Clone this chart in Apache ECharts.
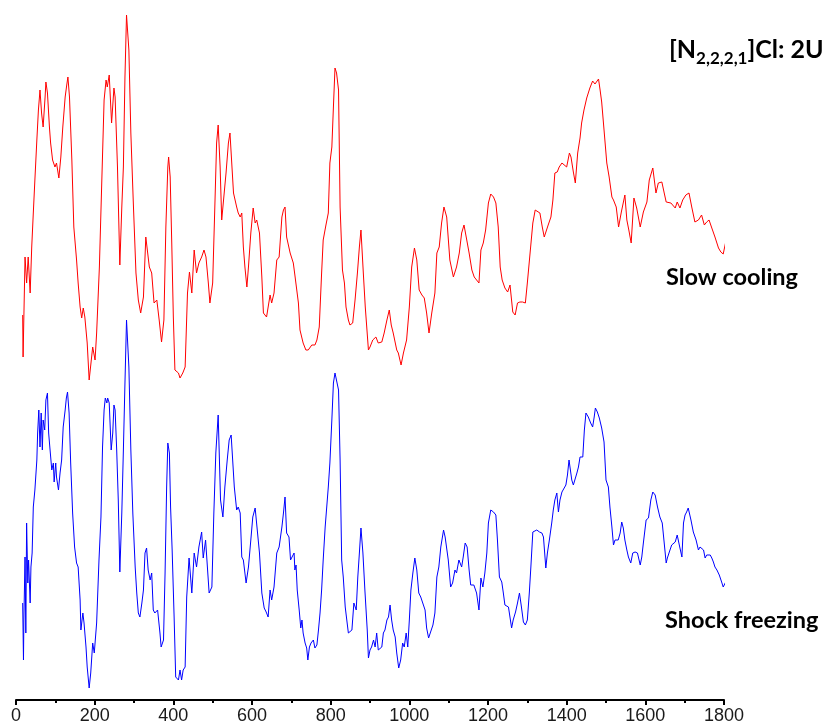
<!DOCTYPE html>
<html>
<head>
<meta charset="utf-8">
<script src="https://cdn.jsdelivr.net/npm/echarts@6/dist/echarts.min.js"></script>
<style>
  html, body { margin: 0; padding: 0; background: #ffffff; }
  #chart { width: 834px; height: 728px; }
</style>
</head>
<body>
<div id="chart"></div>
<script>
// Raman shift (cm-1) and offset intensity (a.u.) for the two spectra
const slowX = [17,18,23,27,31,36,40,44,48,53,57,59,61,65,69,74,76,80,85,88,93,99,103,109,114,119,125,129,132,136,142,147,154,158,163,167,171,175,181,186,195,201,205,212,218,224,229,232,237,243,249,252,258,264,269,273,277,281,287,292,298,305,311,317,324,330,332,339,345,351,358,364,370,376,381,386,388,392,396,400,404,413,417,424,430,436,441,447,453,459,465,472,478,483,489,493,500,506,510,514,519,523,527,534,540,544,548,553,561,565,570,574,578,582,587,591,597,603,608,612,619,625,629,637,641,646,650,656,663,669,676,680,684,688,697,705,709,714,718,722,726,730,737,743,752,760,765,771,777,781,788,794,798,803,807,811,815,820,824,830,835,839,845,849,856,862,868,873,877,883,888,896,900,907,915,921,926,930,936,943,949,954,959,968,972,979,985,993,1000,1006,1013,1019,1025,1032,1038,1044,1050,1057,1065,1070,1076,1082,1088,1095,1103,1112,1120,1127,1133,1139,1146,1152,1159,1165,1171,1177,1182,1188,1194,1201,1207,1214,1220,1226,1231,1236,1243,1250,1256,1263,1269,1275,1281,1288,1295,1300,1307,1314,1320,1325,1332,1338,1343,1348,1353,1360,1365,1370,1376,1381,1388,1393,1400,1407,1411,1417,1422,1428,1434,1438,1444,1451,1459,1466,1472,1481,1485,1489,1495,1502,1508,1515,1519,1526,1532,1539,1548,1553,1558,1564,1571,1578,1587,1595,1604,1610,1619,1627,1633,1642,1648,1653,1665,1670,1676,1681,1688,1695,1703,1711,1718,1726,1735,1743,1750,1756,1762,1769,1777,1786,1792,1798,1807];
const slowY = [385,343,443,417,443,407,453,487,520,560,590,600,610,587,573,603,618,607,573,557,540,533,537,522,543,573,603,615,623,603,540,473,440,417,393,382,392,383,357,320,353,340,367,433,517,600,620,613,625,577,612,603,533,435,493,533,623,685,650,567,500,427,400,387,403,463,465,433,427,397,400,380,358,380,473,533,543,523,457,383,330,327,322,327,333,407,428,407,450,427,437,443,450,443,417,397,417,500,557,575,533,480,480,527,557,567,568,507,493,487,483,487,453,433,413,433,467,492,477,480,467,423,387,383,382,405,397,407,440,443,483,490,493,463,447,437,425,423,397,370,372,357,350,350,355,355,360,373,427,460,475,487,537,553,593,632,627,610,493,430,417,393,380,375,377,400,427,453,470,427,393,350,353,360,363,357,358,358,367,380,390,375,367,350,347,335,347,360,393,433,452,440,410,405,402,387,367,387,407,447,453,477,493,483,440,423,433,447,467,475,460,447,430,423,420,417,450,457,470,497,506,503,497,473,433,420,412,408,415,388,385,397,398,398,397,417,447,477,490,492,487,473,463,462,475,483,500,527,528,533,537,535,533,547,543,528,517,547,562,577,590,602,612,619,616,621,610,598,570,537,523,503,500,493,473,488,505,480,470,457,502,492,473,488,498,520,532,507,517,518,507,498,497,498,492,498,492,500,505,507,493,478,480,485,475,478,480,472,463,452,448,446,463];

const shockX = [17,19,20,23,25,27,30,32,36,38,41,44,48,53,55,58,61,64,67,69,73,76,80,83,86,91,95,97,101,103,108,112,116,120,125,128,131,135,139,144,149,154,158,163,165,170,173,178,181,186,190,195,199,205,211,216,220,224,227,231,233,237,242,246,249,252,256,260,264,269,273,277,281,287,292,297,303,307,311,315,320,324,328,332,336,341,345,349,353,360,366,369,375,379,383,386,390,393,397,402,406,413,417,421,425,430,434,440,447,453,459,465,472,476,482,486,491,498,503,508,514,520,526,531,537,542,547,550,555,561,565,570,574,578,585,591,597,602,608,612,619,625,631,636,641,646,650,656,663,669,676,680,684,688,694,698,703,707,709,712,715,720,724,727,730,735,739,742,746,750,756,760,765,769,773,777,781,786,790,794,798,803,807,811,815,820,824,828,832,837,841,845,849,854,859,865,869,873,877,882,887,893,896,900,904,909,913,917,921,926,930,934,938,943,947,951,955,959,964,968,973,978,983,987,992,996,1000,1004,1009,1014,1019,1024,1029,1034,1040,1044,1049,1054,1060,1065,1070,1075,1080,1087,1091,1095,1099,1105,1110,1116,1120,1126,1129,1133,1137,1142,1147,1152,1156,1160,1164,1171,1177,1182,1187,1192,1197,1201,1207,1214,1220,1224,1229,1235,1239,1243,1248,1252,1256,1260,1264,1270,1275,1280,1285,1290,1295,1300,1305,1309,1314,1318,1324,1331,1337,1341,1347,1351,1356,1362,1366,1370,1375,1379,1383,1388,1393,1398,1402,1406,1409,1413,1417,1421,1426,1430,1434,1441,1445,1449,1455,1461,1466,1470,1473,1478,1483,1489,1495,1500,1506,1510,1515,1519,1523,1531,1536,1540,1544,1548,1553,1557,1563,1568,1574,1580,1587,1591,1595,1602,1608,1614,1619,1625,1631,1637,1643,1648,1653,1656,1661,1667,1671,1676,1681,1688,1693,1697,1701,1705,1709,1716,1722,1729,1735,1739,1743,1748,1752,1756,1760,1765,1769,1773,1777,1782,1788,1794,1798,1803,1807];
const shockY = [97,40,80,143,67,177,117,140,97,133,147,193,210,240,267,290,253,287,250,280,270,300,307,267,253,230,237,218,237,223,210,227,240,273,290,302,308,287,237,187,153,137,133,100,70,87,77,53,33,12,27,57,47,77,140,183,253,290,302,297,302,297,250,267,295,290,250,200,128,187,250,317,380,333,250,187,133,107,87,83,97,110,147,152,130,120,127,90,87,90,67,53,60,127,213,257,247,193,150,83,23,20,30,20,30,33,103,142,107,147,133,153,168,142,160,160,107,113,187,247,285,200,183,213,240,260,265,267,213,190,193,187,143,140,117,133,160,183,192,190,147,107,92,88,83,110,100,113,147,153,173,187,203,167,163,140,142,147,130,135,110,90,72,80,67,57,52,40,53,57,60,52,55,70,87,110,140,173,172,213,237,280,317,327,328,310,240,140,123,93,80,67,65,70,97,90,123,147,172,147,110,70,42,50,53,60,53,67,50,48,53,67,70,80,83,95,80,70,63,47,32,40,57,53,67,53,80,110,127,142,130,107,103,102,90,72,62,60,75,87,123,133,153,170,163,162,140,113,117,130,127,140,138,133,143,157,153,130,115,113,115,107,90,122,113,127,147,177,190,188,185,160,123,118,107,95,93,93,92,72,80,88,97,107,93,78,75,80,107,133,168,168,170,168,167,163,132,147,160,177,190,200,207,188,200,208,207,215,225,240,242,220,215,213,227,233,243,243,270,287,283,277,273,283,292,288,282,272,258,220,213,193,173,155,160,160,167,178,172,160,150,143,137,147,148,147,135,143,157,180,182,200,208,205,193,183,177,157,137,142,148,155,157,158,165,152,143,177,185,188,192,180,168,160,150,153,155,150,142,145,147,145,142,138,133,130,125,118,113,117,120];

const xTicks = [0, 1800, 200];          // axis min, max, major step
const yRange = [0, 700];                // vertical extent of the stacked plot (a.u.)

const pair = (xs, ys) => xs.map((x, i) => [x, ys[i]]);

const chart = echarts.init(document.getElementById('chart'), null, { renderer: 'canvas' });

chart.setOption({
  animation: false,
  backgroundColor: '#ffffff',
  grid: { left: 16, right: 110, top: 0, bottom: 28, containLabel: false },
  xAxis: {
    type: 'value',
    min: xTicks[0],
    max: xTicks[1],
    interval: xTicks[2],
    axisLine: { show: true, onZero: false, lineStyle: { color: '#000000', width: 2 } },
    axisTick: { show: true, inside: false, length: 5, lineStyle: { color: '#000000', width: 2 } },
    minorTick: { show: true, splitNumber: 2, length: 3, lineStyle: { color: '#000000', width: 2 } },
    splitLine: { show: false },
    axisLabel: {
      color: '#1a1a1a',
      fontFamily: 'Liberation Sans, Arial, sans-serif',
      fontSize: 18,
      margin: 7,
      formatter: (v) => String(v)
    }
  },
  yAxis: {
    type: 'value',
    min: yRange[0],
    max: yRange[1],
    show: false
  },
  series: [
    {
      name: 'Slow cooling',
      type: 'line',
      data: pair(slowX, slowY),
      showSymbol: false,
      clip: false,
      lineStyle: { color: '#ff0000', width: 1 },
      itemStyle: { color: '#ff0000' }
    },
    {
      name: 'Shock freezing',
      type: 'line',
      data: pair(shockX, shockY),
      showSymbol: false,
      clip: false,
      lineStyle: { color: '#0000ff', width: 1 },
      itemStyle: { color: '#0000ff' }
    }
  ],
  graphic: [
    {
      type: 'text',
      left: 669,
      top: 37,
      style: {
        text: '{m|[N}{s|2,2,2,1}{m|]Cl: 2U}',
        rich: {
          m: { fontFamily: 'Lato, sans-serif', fontWeight: 'bold', fontSize: 25, fill: '#000000' },
          s: { fontFamily: 'Lato, sans-serif', fontWeight: 'bold', fontSize: 17, fill: '#000000', padding: [18, 0, 0, 0] }
        }
      }
    },
    {
      type: 'text',
      left: 666,
      top: 265,
      style: { text: 'Slow cooling', fontFamily: 'Lato, sans-serif', fontWeight: 'bold', fontSize: 23.5, fill: '#000000' }
    },
    {
      type: 'text',
      left: 665,
      top: 608,
      style: { text: 'Shock freezing', fontFamily: 'Lato, sans-serif', fontWeight: 'bold', fontSize: 23.5, fill: '#000000' }
    }
  ]
});
</script>
</body>
</html>
